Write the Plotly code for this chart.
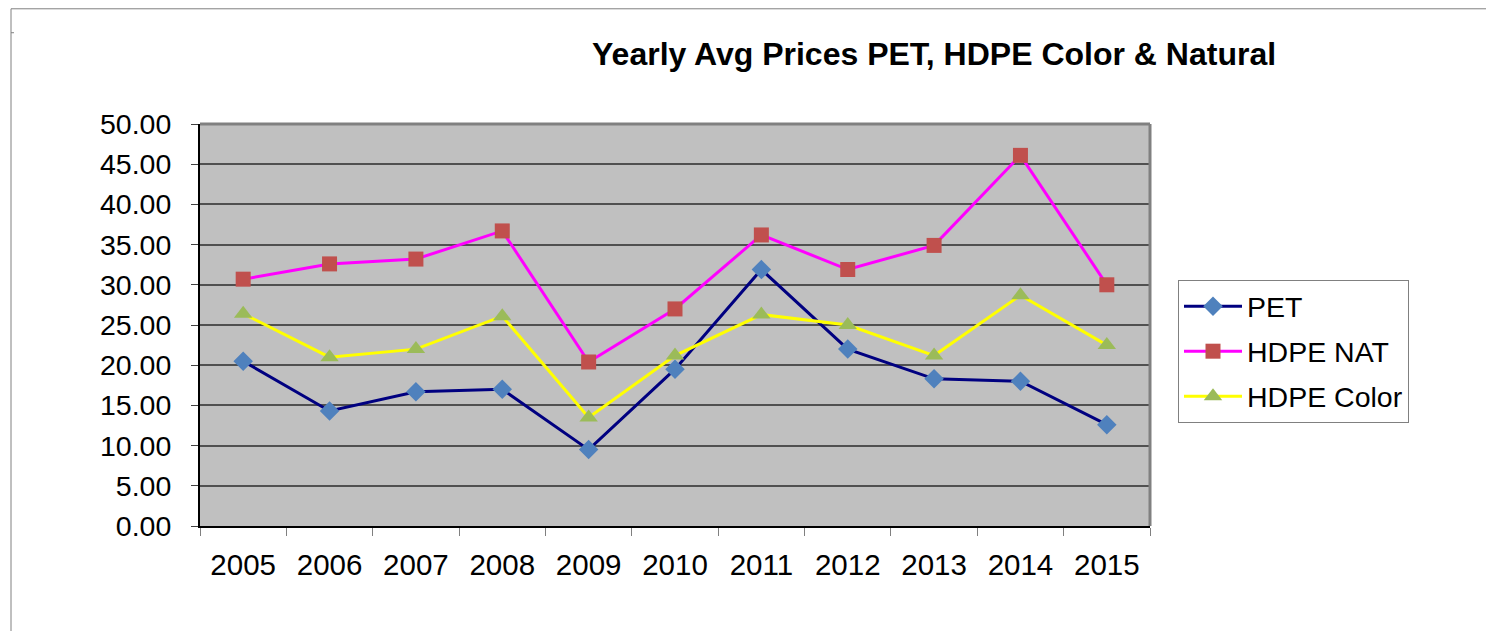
import plotly.graph_objects as go

years = ["2005", "2006", "2007", "2008", "2009", "2010", "2011", "2012", "2013", "2014", "2015"]
pet = [20.5, 14.3, 16.7, 17.0, 9.5, 19.5, 31.9, 22.0, 18.3, 18.0, 12.6]
hdpe_nat = [30.7, 32.6, 33.2, 36.7, 20.4, 27.0, 36.2, 31.9, 34.9, 46.1, 30.0]
hdpe_color = [26.4, 21.0, 22.0, 26.1, 13.5, 21.2, 26.3, 25.0, 21.2, 28.7, 22.5]
y_ticks = [0, 5, 10, 15, 20, 25, 30, 35, 40, 45, 50]

FONT = "Liberation Sans, Arial, sans-serif"

# page body has an 8px margin; figure is drawn from screen (8, 8)
OFF = 8
FIG_W, FIG_H = 1494 - OFF, 631 - OFF
# plot area in screen coordinates
L, R, T, B = 200, 1150, 123.5, 526.5
W, H = R - L, B - T


def px(x):
    return (x - L) / W


def py(y):
    return (B - y) / H


fig = go.Figure()
fig.add_trace(go.Scatter(
    x=years, y=pet, name="PET", mode="lines+markers", legendgroup="a",
    line=dict(color="#000080", width=3),
    marker=dict(symbol="diamond", size=15, color="#4F81BD"),
))
fig.add_trace(go.Scatter(
    x=years, y=hdpe_nat, name="HDPE NAT", mode="lines+markers", legendgroup="b",
    line=dict(color="#FF00FF", width=3),
    marker=dict(symbol="square", size=15, color="#C0504D"),
))
fig.add_trace(go.Scatter(
    x=years, y=hdpe_color, name="HDPE Color", mode="lines+markers", legendgroup="c",
    line=dict(color="#FFFF00", width=3),
    marker=dict(symbol="triangle-up", size=16, color="#9BBB59"),
))

fig.update_layout(
    width=FIG_W, height=FIG_H,
    margin=dict(l=L - OFF, r=1494 - R, t=T - OFF, b=631 - B, autoexpand=False),
    paper_bgcolor="white",
    plot_bgcolor="#C0C0C0",
    font=dict(family=FONT, size=29, color="black"),
    showlegend=True,
    legend=dict(
        x=px(1178), y=py(280), xanchor="left", yanchor="top",
        bordercolor="#808080", borderwidth=1, bgcolor="white",
        font=dict(family=FONT, size=28.5, color="black"),
        traceorder="grouped", tracegroupgap=5, itemwidth=58,
    ),
    xaxis=dict(
        type="category", range=[-0.5, 10.5], tickson="boundaries",
        ticks="outside", ticklen=8, tickcolor="#808080", tickwidth=1,
        showline=True, linecolor="black", linewidth=2,
        showgrid=False, tickfont=dict(size=29.5), ticklabelstandoff=12,
        mirror=False,
    ),
    yaxis=dict(
        range=[0, 50], tickvals=y_ticks, ticktext=[f"{v:.2f}" for v in y_ticks],
        ticks="outside", ticklen=7, tickcolor="#404040",
        showline=True, linecolor="black", linewidth=2,
        showgrid=True, gridcolor="#505050", gridwidth=1.5,
        tickfont=dict(size=28.5), zeroline=False, ticklabelstandoff=14,
    ),
    annotations=[dict(
        text="<b>Yearly Avg Prices PET, HDPE Color &amp; Natural</b>",
        x=px(934), y=py(53), xref="paper", yref="paper",
        xanchor="center", yanchor="middle", showarrow=False,
        font=dict(family=FONT, size=32, color="black"),
    )],
    shapes=[
        # top & right plot border (gray)
        dict(type="line", xref="paper", yref="paper", x0=0, x1=1, y0=1, y1=1,
             line=dict(color="#808080", width=3), layer="above"),
        dict(type="line", xref="paper", yref="paper", x0=1, x1=1, y0=0, y1=1,
             line=dict(color="#808080", width=3), layer="above"),
        # outer chart frame
        dict(type="line", xref="paper", yref="paper", x0=px(11), x1=px(11), y0=py(8), y1=py(640),
             line=dict(color="#808080", width=1)),
        dict(type="line", xref="paper", yref="paper", x0=px(11), x1=px(1500), y0=py(8), y1=py(8),
             line=dict(color="#808080", width=1)),
        dict(type="line", xref="paper", yref="paper", x0=px(11), x1=px(14), y0=py(32), y1=py(32),
             line=dict(color="#808080", width=1)),
    ],
)

fig.write_html("out.html")
